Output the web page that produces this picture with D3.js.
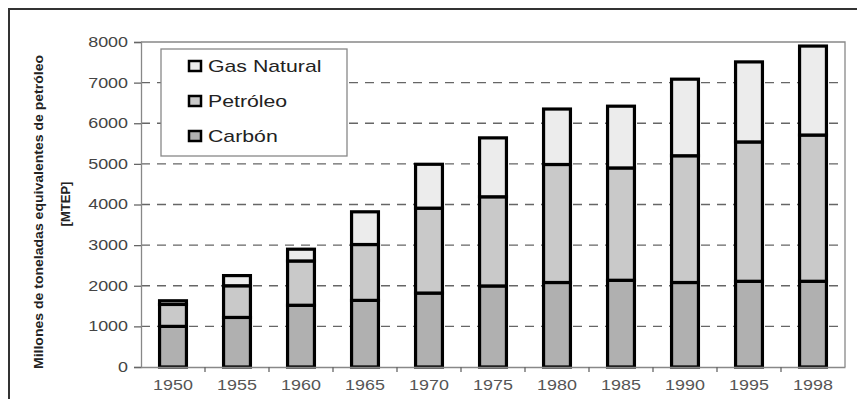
<!DOCTYPE html>
<html>
<head>
<meta charset="utf-8">
<script src="https://cdn.jsdelivr.net/npm/d3@7"></script>
<style>
  body { margin: 0; background: #fff; }
  text { font-family: "Liberation Sans", Arial, sans-serif; }
</style>
</head>
<body>
<svg id="grafico"></svg>
<script>
// dados (MTEP)
const anos = ['1950', '1955', '1960', '1965', '1970', '1975', '1980', '1985', '1990', '1995', '1998'];
const carbon = [1000, 1220, 1520, 1640, 1820, 1995, 2080, 2135, 2080, 2110, 2110];
const petroleo = [540, 780, 1090, 1375, 2090, 2195, 2905, 2765, 3120, 3430, 3600];
const gasNatural = [90, 250, 290, 805, 1080, 1450, 1365, 1520, 1885, 1970, 2190];
const ticksY = [0, 1000, 2000, 3000, 4000, 5000, 6000, 7000, 8000];
const series = ['Carbón', 'Petróleo', 'Gas Natural'];
const cores = ['#b0b0b0', '#c9c9c9', '#ececec'];

const largura = 857, altura = 399;
const esticar = 1.28; // o texto do original aparece esticado na horizontal
const svg = d3.select('#grafico').attr('width', largura).attr('height', altura);

// margens da área de plotagem
const margem = { esquerda: 141, direita: 12, superior: 42, inferior: 32 };
const larguraPlotagem = largura - margem.esquerda - margem.direita;
const alturaPlotagem = altura - margem.superior - margem.inferior;

// moldura externa
svg.append('path')
    .attr('d', `M9,${altura} V9 H${largura}`)
    .attr('fill', 'none')
    .attr('stroke', '#333')
    .attr('stroke-width', 2);

const plotagem = svg.append('g')
    .attr('transform', `translate(${margem.esquerda}, ${margem.superior})`);

// escalas
const x = d3.scaleBand().domain(anos).range([0, larguraPlotagem])
    .paddingInner(0.58).paddingOuter(0.29);
const y = d3.scaleLinear().domain([0, 8000]).range([alturaPlotagem, 0]);

// tabela para o empilhamento
const tabela = anos.map((a, i) => ({ ano: a, 'Carbón': carbon[i], 'Petróleo': petroleo[i], 'Gas Natural': gasNatural[i] }));
const pilhas = d3.stack().keys(series)(tabela);

// linhas de grade tracejadas
plotagem.append('g')
  .selectAll('line')
  .data(ticksY.filter(t => t > 0 && t < 8000))
  .join('line')
    .attr('x1', 0).attr('x2', larguraPlotagem)
    .attr('y1', d => y(d)).attr('y2', d => y(d))
    .attr('stroke', '#666')
    .attr('stroke-width', 1.4)
    .attr('stroke-dasharray', '9,7');

// borda superior e direita da área de plotagem
plotagem.append('path')
    .attr('d', `M0,0 H${larguraPlotagem} V${alturaPlotagem}`)
    .attr('fill', 'none')
    .attr('stroke', '#888')
    .attr('stroke-width', 1.3);

// barras empilhadas
plotagem.append('g')
  .selectAll('g')
  .data(pilhas)
  .join('g')
    .attr('fill', (d, i) => cores[i])
  .selectAll('rect')
  .data(d => d)
  .join('rect')
    .attr('x', d => x(d.data.ano))
    .attr('y', d => y(d[1]))
    .attr('width', x.bandwidth())
    .attr('height', d => y(d[0]) - y(d[1]))
    .attr('stroke', '#000')
    .attr('stroke-width', 3.2);

// eixo Y
const eixoY = plotagem.append('g')
    .call(d3.axisLeft(y).tickValues(ticksY).tickFormat(d3.format('d')).tickSize(7).tickPadding(6));
eixoY.selectAll('text')
    .attr('fill', '#444').style('font-size', '14px')
    .attr('x', -13 / esticar)
    .attr('transform', `scale(${esticar},1)`);
eixoY.selectAll('line').attr('stroke', '#666').attr('stroke-width', 1.3);
eixoY.select('.domain').attr('stroke', '#888').attr('stroke-width', 1.3);

// eixo X
const eixoX = plotagem.append('g')
    .attr('transform', `translate(0, ${alturaPlotagem})`)
    .call(d3.axisBottom(x).tickSize(0).tickPadding(13));
eixoX.selectAll('text')
    .attr('fill', '#555').style('font-size', '14px')
    .attr('transform', `scale(${esticar},1)`);
eixoX.select('.domain').attr('stroke', '#888').attr('stroke-width', 1.3);
eixoX.append('g')
  .selectAll('line')
  .data(anos.slice(0, -1))
  .join('line')
    .attr('x1', d => x(d) + x.bandwidth() + (x.step() - x.bandwidth()) / 2)
    .attr('x2', d => x(d) + x.bandwidth() + (x.step() - x.bandwidth()) / 2)
    .attr('y1', 0).attr('y2', 5)
    .attr('stroke', '#666').attr('stroke-width', 1.3);

// título do eixo Y
const titulo = svg.append('text')
    .attr('transform', 'translate(38, 212) rotate(-90)')
    .attr('text-anchor', 'middle')
    .style('font-weight', 'bold')
    .style('font-size', '13px')
    .attr('fill', '#222');
titulo.append('tspan').attr('x', 0).attr('dy', 5)
    .attr('textLength', 314).attr('lengthAdjust', 'spacingAndGlyphs')
    .text('Millones de toneladas equivalentes de petróleo');
titulo.append('tspan').attr('x', 8).attr('dy', 27)
    .text('[MTEP]');

// legenda
const legenda = svg.append('g').attr('transform', 'translate(161, 49)');
legenda.append('rect')
    .attr('width', 186).attr('height', 107)
    .attr('fill', '#fff').attr('stroke', '#888').attr('stroke-width', 1.3);
const itens = legenda.selectAll('g.item')
  .data(series.slice().reverse())
  .join('g')
    .attr('class', 'item')
    .attr('transform', (d, i) => `translate(28, ${12 + i * 35})`);
itens.append('rect')
    .attr('width', 12).attr('height', 10)
    .attr('fill', d => cores[series.indexOf(d)])
    .attr('stroke', '#000').attr('stroke-width', 2.5);
itens.append('text')
    .attr('x', 19 / 1.33).attr('y', 11)
    .attr('transform', 'scale(1.33,1)')
    .style('font-size', '16px')
    .attr('fill', '#222')
    .text(d => d);
</script>
</body>
</html>
